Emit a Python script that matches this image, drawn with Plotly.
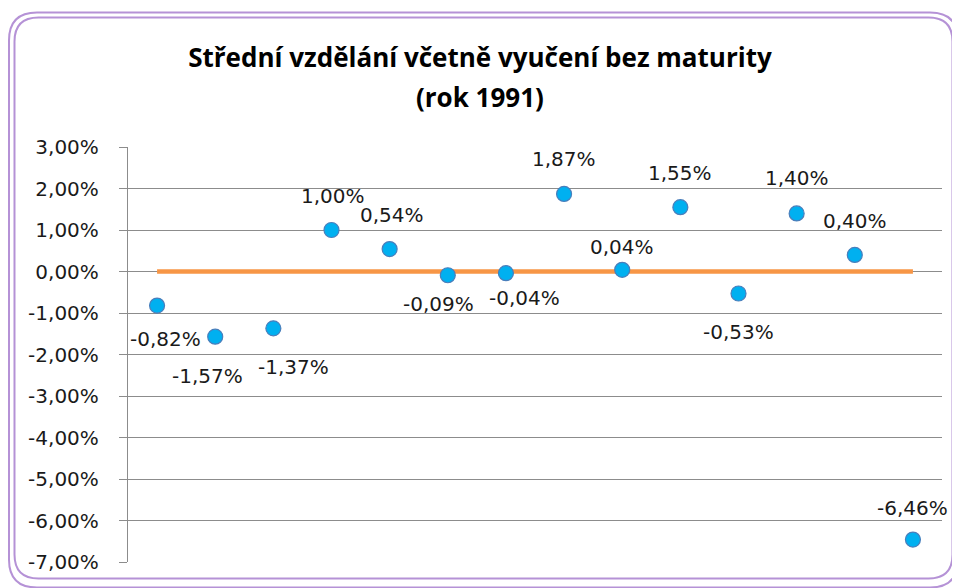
import plotly.graph_objects as go

# data (values in %)
poradi = list(range(1, 15))
hodnoty = [-0.82, -1.57, -1.37, 1.00, 0.54, -0.09, -0.04, 1.87, 0.04, 1.55, -0.53, 1.40, 0.40, -6.46]
nula = [0] * 14
y_ticks = [3, 2, 1, 0, -1, -2, -3, -4, -5, -6, -7]

# label placement (pixel shift from point, like Excel's manual label positions)
label_dx = [8, -8, 20, 1, 2, -9, 19, 0, 0, 0, 0, 0, 0, 0]
label_dy = [-33, -39, -39, 34, 34, -29, -25, 35, 23, 34, -38, 35, 34, 32]

def fmt(v):
    return ('%.2f%%' % v).replace('.', ',')

# page has an 8px body margin, so everything is laid out 8px up/left
W, H = 960, 588
ML, MR, MT, MB = 120, 26, 139, 34
PW, PH = W - ML - MR, H - MT - MB

fig = go.Figure()

# orange reference line at zero
fig.add_scatter(x=poradi, y=nula, mode='lines',
                line=dict(color='#F79646', width=4.5), hoverinfo='skip')

fig.add_scatter(x=poradi, y=hodnoty, mode='markers',
                marker=dict(size=15, color='#00B0F0', line=dict(color='#4A7EBB', width=1.2)))

for x, v, dx, dy in zip(poradi, hodnoty, label_dx, label_dy):
    fig.add_annotation(x=x, y=v, text=fmt(v), showarrow=False,
                       xshift=dx, yshift=dy,
                       font=dict(family='DejaVu Sans', size=20, color='#1a1a1a'))

# rounded double border (pixel -> paper coords)
def px(x):
    return (x - ML) / PW

def py(y):
    return (H - MB - y) / PH

def rounded(x0, y0, x1, y1, r):
    return ('M %f,%f L %f,%f Q %f,%f %f,%f L %f,%f Q %f,%f %f,%f '
            'L %f,%f Q %f,%f %f,%f L %f,%f Q %f,%f %f,%f Z') % (
        px(x0 + r), py(y0), px(x1 - r), py(y0), px(x1), py(y0), px(x1), py(y0 + r),
        px(x1), py(y1 - r), px(x1), py(y1), px(x1 - r), py(y1),
        px(x0 + r), py(y1), px(x0), py(y1), px(x0), py(y1 - r),
        px(x0), py(y0 + r), px(x0), py(y0), px(x0 + r), py(y0))

fig.add_shape(type='path', xref='paper', yref='paper', path=rounded(1, 4.5, 950, 579.5, 28),
              line=dict(color='#B592D6', width=2))
fig.add_shape(type='path', xref='paper', yref='paper', path=rounded(6.5, 9.5, 944.5, 570.5, 24),
              line=dict(color='#B592D6', width=2))

title_font = dict(family='Open Sans', size=26, color='black')
fig.update_layout(
    width=W, height=H,
    margin=dict(l=ML, r=MR, t=MT, b=MB),
    paper_bgcolor='white', plot_bgcolor='white',
    showlegend=False,
    title=dict(text='<b>Střední vzdělání včetně vyučení bez maturity</b>',
               x=px(480 - 8), xref='paper', xanchor='center',
               yref='container', y=1 - 50 / H, yanchor='middle',
               font=title_font),
)
fig.add_annotation(text='<b>(rok 1991)</b>', xref='paper', yref='paper',
                   x=px(480 - 8), y=py(89), xanchor='center', yanchor='middle',
                   showarrow=False, font=title_font)

fig.update_xaxes(range=[0.5, 14.5], showgrid=False, zeroline=False,
                 showticklabels=False, showline=False)

fig.update_yaxes(range=[-7, 3], tickvals=y_ticks, ticktext=[fmt(t) for t in y_ticks],
                 showgrid=True, gridcolor='#8C8C8C', gridwidth=1.3, zeroline=False,
                 showline=True, linecolor='#8C8C8C', linewidth=1.3,
                 ticks='outside', ticklen=8, tickcolor='#8C8C8C', tickwidth=1.3,
                 ticklabelstandoff=16,
                 tickfont=dict(family='DejaVu Sans', size=20, color='#1a1a1a'))

fig.write_html("out.html")
